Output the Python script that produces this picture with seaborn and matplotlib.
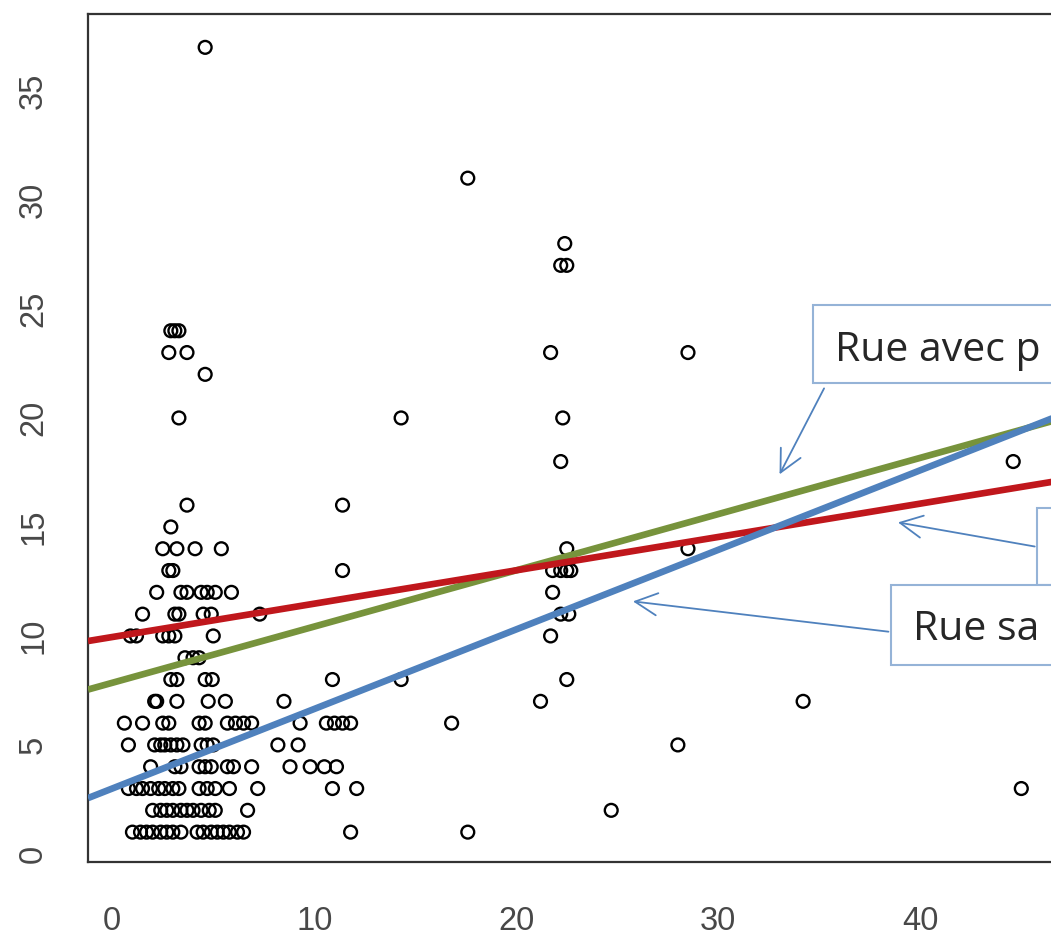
import matplotlib
matplotlib.use("Agg")
import matplotlib.pyplot as plt
from matplotlib.patches import Rectangle
import numpy as np
import pandas as pd
import seaborn as sns

# points (x continu, y entier)
x_vals = [
    4.6,
    17.6,
    22.4,
    22.2, 22.5,
    2.9, 3.1, 3.3,
    2.8, 3.7, 21.7, 28.5,
    4.6,
    3.3, 14.3, 22.3,
    22.2, 44.6,
    3.7, 11.4,
    2.9,
    2.5, 3.2, 4.1, 5.4, 22.5, 28.5,
    2.8, 3.0, 11.4, 21.8, 22.2, 22.5, 22.7,
    2.2, 3.4, 3.7, 4.4, 4.7, 5.1, 5.9, 21.8,
    1.5, 3.1, 3.3, 4.5, 4.9, 7.3, 22.2, 22.6,
    0.9, 1.2, 2.5, 2.8, 3.1, 5.0, 21.7,
    3.6, 4.0, 4.3,
    2.9, 3.2, 4.6, 4.95, 10.9, 14.3, 22.5,
    2.1, 2.2, 3.2, 4.75, 5.6, 8.5, 21.2, 34.2,
    0.6, 1.5, 2.5, 2.8, 4.3, 4.6, 5.7, 6.1, 6.5, 6.9, 9.3, 10.6, 11.0, 11.4, 11.8, 16.8,
    0.8, 2.1, 2.4, 2.6, 2.9, 3.2, 3.5, 4.4, 4.7, 5.0, 8.2, 9.2, 28.0,
    1.9, 3.1, 3.4, 4.3, 4.6, 4.9, 5.7, 6.0, 6.9, 8.8, 9.8, 10.5, 11.1,
    0.8, 1.2, 1.5, 1.9, 2.3, 2.6, 3.0, 3.3, 4.3, 4.7, 5.1, 5.8, 7.2, 10.9, 12.1, 45.0,
    2.0, 2.4, 2.7, 3.0, 3.4, 3.7, 4.0, 4.4, 4.8, 5.1, 6.7, 24.7,
    1.0, 1.4, 1.7, 2.0, 2.4, 2.7, 3.0, 3.4, 4.2, 4.5, 4.9, 5.2, 5.5, 5.8, 6.2, 6.5, 11.8, 17.6,
]
y_vals = (
    [37] + [31] + [28] + [27] * 2 + [24] * 3 + [23] * 4 + [22] + [20] * 3
    + [18] * 2 + [16] * 2 + [15] + [14] * 6 + [13] * 7 + [12] * 8 + [11] * 8
    + [10] * 7 + [9] * 3 + [8] * 7 + [7] * 8 + [6] * 16 + [5] * 13 + [4] * 13
    + [3] * 16 + [2] * 12 + [1] * 18
)

# droites de regression (ordonnee a l'origine, pente)
line_names = ["avec piste", "toutes", "sans piste"]
intercepts = [7.85, 9.95, 3.0]
slopes = [0.258, 0.153, 0.365]
line_colors = ["#77933C", "#C0171C", "#4F81BD"]

# textes des encadres (rognes a droite dans l'original)
label_avec = "Rue avec p"
label_sans = "Rue sa"

df = pd.DataFrame({"x": x_vals, "y": y_vals})

sns.set_style("white")
plt.rcParams["font.family"] = ["Liberation Sans", "DejaVu Sans"]

fig = plt.figure(figsize=(10.51, 9.38), dpi=100)
# l'axe depasse a droite : le graphique d'origine est rogne
ax = fig.add_axes([88 / 1051, 76 / 938, 983 / 1051, 848 / 938])

sns.scatterplot(data=df, x="x", y="y", ax=ax, marker="o", s=85,
                facecolor="none", edgecolor="black", linewidth=1.7, zorder=3)

for nom, b, m, c in zip(line_names, intercepts, slopes, line_colors):
    ax.axline((0, b), slope=m, color=c, lw=4.8, zorder=4, solid_capstyle="butt")

ax.set_xlim(-1.2, 47.46)
ax.set_ylim(-0.37, 38.53)
ax.set_xticks([0, 10, 20, 30, 40])
ax.set_yticks([0, 5, 10, 15, 20, 25, 30, 35])
ax.set_xlabel("")
ax.set_ylabel("")
for lab in ax.get_yticklabels():
    lab.set_rotation(90)
    lab.set_va("center")
ax.tick_params(axis="both", direction="out", length=14, width=1.5,
               color="#333333", labelsize=23.5, labelcolor="#484848")
ax.tick_params(axis="x", pad=18)
ax.tick_params(axis="y", pad=14)
for s in ["left", "bottom", "top"]:
    ax.spines[s].set_color("#333333")
    ax.spines[s].set_linewidth(1.6)
ax.spines["right"].set_visible(False)

# encadres de legende
box_edge = "#95B3D7"
arrow_col = "#4F81BD"
boxes = [(34.7, 21.6, 3.58), (45.8, 12.34, 3.53), (38.56, 8.67, 3.67)]
for bx, by, bh in boxes:
    ax.add_patch(Rectangle((bx, by), 30, bh, facecolor="white", edgecolor=box_edge,
                           lw=1.5, zorder=6, clip_on=False))

ax.text(35.8, 22.6, label_avec, fontsize=29.5, family="Open Sans",
        color="#262626", va="baseline", zorder=7)
ax.text(39.65, 9.82, label_sans, fontsize=29.5, family="Open Sans",
        color="#262626", va="baseline", zorder=7)

arrows = [((35.3, 21.47), (32.97, 17.3)),
          ((45.8, 14.08), (38.76, 15.23)),
          ((38.56, 10.18), (25.64, 11.6))]
for start, end in arrows:
    ax.annotate("", xy=end, xytext=start,
                arrowprops=dict(arrowstyle="->,head_length=0.8,head_width=0.4",
                                color=arrow_col, lw=1.3, mutation_scale=20),
                zorder=5)

fig.savefig("out.png", dpi=100)
